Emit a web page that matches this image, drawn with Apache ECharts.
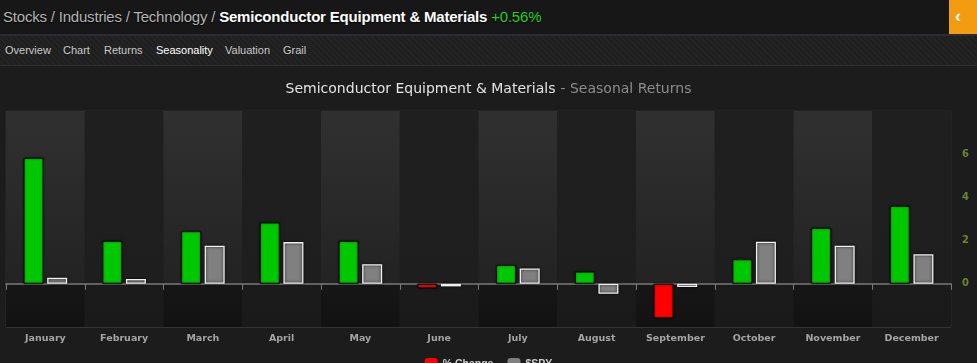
<!DOCTYPE html>
<html>
<head>
<meta charset="utf-8">
<script src="https://cdn.jsdelivr.net/npm/echarts@6/dist/echarts.min.js"></script>
<style>
html,body{margin:0;padding:0;background:#1c1c1c;width:977px;height:363px;overflow:hidden;font-family:"Liberation Sans",Arial,sans-serif;}
#chart{position:absolute;left:0;top:0;width:977px;height:363px;}
#hdr{position:absolute;left:0;top:0;width:977px;height:34px;background:#171717;z-index:2;}
#hdr .crumb{position:absolute;left:3px;top:8px;font-size:15px;color:#b4b4b4;letter-spacing:-0.2px;text-shadow:0 1px 1px #000;white-space:nowrap;}
#hdr .crumb b{color:#ffffff;font-weight:bold;}
#hdr .crumb .pct{color:#27d127;}
#hdr .btn{position:absolute;right:0;top:0;width:28px;height:35px;background:#f39c12;color:#fff;font-size:18px;font-weight:bold;line-height:33px;text-align:left;padding-left:6px;box-sizing:border-box;}
#sep{position:absolute;left:0;top:34px;width:977px;height:2px;background:#2b2b33;z-index:2;}
#tabs{position:absolute;left:0;top:36px;width:977px;height:29px;z-index:2;
 background:repeating-linear-gradient(45deg,#1f1f1f 0px,#1f1f1f 2px,#232323 2px,#232323 4px);}
#tabs span{position:absolute;top:8px;font-size:11px;color:#c8c8c8;white-space:nowrap;}
#tabs span.act{color:#ffffff;}
#sep2{position:absolute;left:0;top:65px;width:977px;height:1px;background:#2e2e2e;z-index:2;}
</style>
</head>
<body>
<div id="chart"></div>
<div id="hdr">
  <div class="crumb">Stocks / Industries / Technology / <b>Semiconductor Equipment &amp; Materials</b> <span class="pct">+0.56%</span></div>
  <div class="btn">&#8249;</div>
</div>
<div id="sep"></div>
<div id="tabs">
  <span style="left:5px">Overview</span>
  <span style="left:63px">Chart</span>
  <span style="left:104px">Returns</span>
  <span class="act" style="left:156px">Seasonality</span>
  <span style="left:225px">Valuation</span>
  <span style="left:283px">Grail</span>
</div>
<div id="sep2"></div>
<script>
var categories = ['January','February','March','April','May','June','July','August','September','October','November','December'];
var pctChange = [5.83, 1.99, 2.44, 2.84, 1.99, -0.21, 0.87, 0.57, -1.60, 1.14, 2.59, 3.61];
var spyValues = [0.28, 0.22, 1.76, 1.93, 0.91, -0.12, 0.71, -0.46, -0.15, 1.95, 1.76, 1.37];
var yMin = -2, yMax = 8, yStep = 2;

var chart = echarts.init(document.getElementById('chart'), null, {renderer:'canvas'});

var oddBand = new echarts.graphic.LinearGradient(0,0,0,1,[
  {offset:0,color:'#303030'},{offset:0.8,color:'#232323'},
  {offset:0.8,color:'#161616'},{offset:1,color:'#121212'}]);
var evenBand = new echarts.graphic.LinearGradient(0,0,0,1,[
  {offset:0,color:'#1f1f1f'},{offset:0.8,color:'#1e1e1e'},
  {offset:0.8,color:'#1b1b1b'},{offset:1,color:'#1a1a1a'}]);

chart.setOption({
  backgroundColor:'#1c1c1c',
  animation:false,
  title:{
    left:'center', top:80, padding:0,
    text:'{a|Semiconductor Equipment & Materials} {b|- Seasonal Returns}',
    textStyle:{
      fontWeight:'normal',
      rich:{
        a:{fontFamily:'DejaVu Sans',fontSize:14,fontWeight:'normal',color:'#e4e4e4'},
        b:{fontFamily:'DejaVu Sans',fontSize:14,fontWeight:'normal',color:'#8c8c8c'}
      }
    }
  },
  legend:{
    left:'center', top:358, padding:0, itemWidth:13, itemHeight:13, itemGap:14,
    textStyle:{color:'#cccccc',fontSize:10.5,fontWeight:'bold',fontFamily:'Liberation Sans'},
    data:[{name:'% Change',itemStyle:{color:'#ff0000',borderWidth:0}},{name:'$SPY',itemStyle:{color:'#808080',borderWidth:0}}]
  },
  grid:{left:6, right:26, top:111, bottom:36, containLabel:false,
        show:true, borderColor:'#2b2b2b', borderWidth:1, backgroundColor:'transparent'},
  xAxis:{
    type:'category', data:categories,
    axisLine:{lineStyle:{color:'#7a7a7a',width:1.5}},
    axisTick:{show:true,length:6,lineStyle:{color:'#7a7a7a'}},
    axisLabel:{color:'#a4a4a4',fontSize:9.5,fontWeight:'bold',fontFamily:'DejaVu Sans',margin:7},
    splitArea:{show:true,areaStyle:{color:[oddBand,evenBand]}}
  },
  yAxis:{
    type:'value', position:'right', min:yMin, max:yMax, interval:yStep,
    axisLine:{show:false}, axisTick:{show:false},
    splitLine:{lineStyle:{color:'#333333',width:1}},
    axisLabel:{color:'#6b8434',fontSize:10,fontWeight:'bold',fontFamily:'DejaVu Sans',margin:11,
      showMinLabel:false, showMaxLabel:false}
  },
  series:[
    {
      name:'% Change', type:'bar', data:pctChange, barWidth:20, barGap:'18%',
      itemStyle:{
        color:function(p){return p.value < 0 ? '#ff0000' : '#00c800';},
        borderColor:'#0b0b0b', borderWidth:1, shadowColor:'rgba(0,0,0,0.6)', shadowBlur:2
      }
    },
    {
      name:'$SPY', type:'bar', data:spyValues, barWidth:20,
      itemStyle:{color:'#808080', borderColor:'#f0f0f0', borderWidth:1.3,
        shadowColor:'rgba(0,0,0,0.8)', shadowBlur:3}
    }
  ]
});
</script>
</body>
</html>
